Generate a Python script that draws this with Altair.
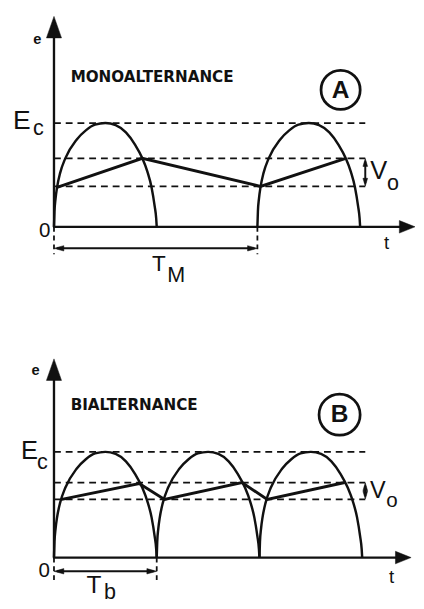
import altair as alt
import pandas as pd

# ---------------- data ----------------
# one hand-drawn arch (phase within the half-wave, level relative to Ec)
ARCH_PHASE = [0.0, 0.005, 0.015, 0.03, 0.06, 0.11, 0.22, 0.31, 0.40, 0.50, 0.60, 0.70, 0.79, 0.86, 0.91, 0.95, 0.98, 0.995, 1.0]
ARCH_LEVEL = [0.0, 0.15, 0.27, 0.38, 0.52, 0.66, 0.84, 0.93, 0.985, 1.0, 0.98, 0.91, 0.79, 0.66, 0.53, 0.38, 0.2, 0.08, 0.0]

A_ARCH_START = [0.0, 1.98]
B_ARCH_START = [0.0, 1.0, 2.0]
A_RIPPLE_T = [0.03, 0.86, 2.01, 2.84]
A_RIPPLE_E = [0.38, 0.66, 0.39, 0.66]
B_RIPPLE_T = [0.076, 0.83, 1.076, 1.83, 2.076, 2.83]
B_RIPPLE_E = [0.55, 0.70, 0.55, 0.71, 0.55, 0.71]
A_LEVELS = [1.0, 0.66, 0.39]
B_LEVELS = [1.0, 0.71, 0.55]
A_PERIOD = 1.98
B_PERIOD = 1.0
TITLES = ["MONOALTERNANCE", "BIALTERNANCE"]
BADGES = ["A", "B"]
PERIOD_SUB = ["M", "b"]

INK = "#111111"
FONT = "Liberation Sans"
W = 414
T0 = -47 / 105.0
T1 = T0 + W / 105.0

# arrowhead outlines (unit square, scaled by the mark size)
HEAD_UP = "M0,-1L0.7,1L-0.7,1Z"
HEAD_RIGHT = "M1,0L-1,0.8L-1,-0.8Z"
SMALL_LEFT = "M-1,0L1,-0.55L1,0.55Z"
SMALL_RIGHT = "M1,0L-1,-0.55L-1,0.55Z"
SMALL_UP = "M0,-1L0.6,1L-0.6,1Z"
SMALL_DOWN = "M0,1L0.6,-1L-0.6,-1Z"

PANELS = [
    dict(h=283, edom=[-0.6226, 2.047], starts=A_ARCH_START, rt=A_RIPPLE_T, re=A_RIPPLE_E,
         levels=A_LEVELS, period=A_PERIOD, title=TITLES[0], badge=BADGES[0], sub=PERIOD_SUB[0],
         yhead=1.925, xhead=3.438, lvl_end=3.03, per_e=-0.2075, per_tick=-0.264,
         e_lab=(-0.162, 1.811), title_pos=(0.162, 1.443), badge_pos=(2.79, 1.32), badge_size=1600,
         E_pos=(-0.314, 1.019), c_pos=(-0.152, 0.953), zero_pos=(-0.09, -0.042),
         t_pos=(3.238, -0.16), V_pos=(3.162, 0.538), o_pos=(3.30, 0.425),
         T_pos=(1.02, -0.358), S_pos=(1.19, -0.462), Esz=27, csz=22, Vsz=26, osz=22, Tsz=23, Ssz=22),
    dict(h=312, edom=[-0.370, 2.5185], starts=B_ARCH_START, rt=B_RIPPLE_T, re=B_RIPPLE_E,
         levels=B_LEVELS, period=B_PERIOD, title=TITLES[1], badge=BADGES[1], sub=PERIOD_SUB[1],
         yhead=1.778, xhead=3.40, lvl_end=3.03, per_e=-0.13, per_tick=-0.25,
         e_lab=(-0.18, 1.769), title_pos=(0.162, 1.444), badge_pos=(2.78, 1.352), badge_size=1764,
         E_pos=(-0.238, 1.009), c_pos=(-0.114, 0.898), zero_pos=(-0.095, -0.13),
         t_pos=(3.286, -0.185), V_pos=(3.152, 0.63), o_pos=(3.29, 0.537),
         T_pos=(0.39, -0.262), S_pos=(0.545, -0.325), Esz=26, csz=22, Vsz=24, osz=21, Tsz=25, Ssz=22),
]


def panel(p):
    xs = alt.Scale(domain=[T0, T1], nice=False, zero=False)
    ys = alt.Scale(domain=p["edom"], nice=False, zero=False)
    X = alt.X("t:Q", scale=xs, axis=None)
    Y = alt.Y("e:Q", scale=ys, axis=None)

    def text(label, pos, size, weight="normal", font=FONT, align="center"):
        df = pd.DataFrame({"t": [pos[0]], "e": [pos[1]], "label": [label]})
        return alt.Chart(df).mark_text(font=font, fontSize=size, fontWeight=weight, align=align,
                                       baseline="middle", color=INK).encode(x=X, y=Y, text="label:N")

    def head(shape, t, e, size):
        df = pd.DataFrame({"t": [t], "e": [e]})
        return alt.Chart(df).mark_point(shape=shape, size=size, fill=INK, stroke=INK,
                                        strokeWidth=0.5, opacity=1, fillOpacity=1).encode(x=X, y=Y)

    # dashed levels
    lv = pd.DataFrame({"t": [0.0] * len(p["levels"]), "t2": [p["lvl_end"]] * len(p["levels"]),
                       "e": p["levels"]})
    levels = alt.Chart(lv).mark_rule(color=INK, strokeWidth=1.8, strokeDash=[7, 5]).encode(
        x=X, x2=alt.X2("t2:Q"), y=Y)

    # axes
    xa = pd.DataFrame({"t": [-0.01], "t2": [p["xhead"]], "e": [0.0]})
    xaxis = alt.Chart(xa).mark_rule(color=INK, strokeWidth=2.4).encode(x=X, x2=alt.X2("t2:Q"), y=Y)
    ya = pd.DataFrame({"t": [0.0], "e": [0.0], "e2": [p["yhead"]]})
    yaxis = alt.Chart(ya).mark_rule(color=INK, strokeWidth=2.4).encode(x=X, y=Y, y2=alt.Y2("e2:Q"))

    # arches
    rows = []
    for k, s in enumerate(p["starts"]):
        for ph, lvl in zip(ARCH_PHASE, ARCH_LEVEL):
            rows.append({"t": s + ph, "e": lvl, "arch": k})
    arches = alt.Chart(pd.DataFrame(rows)).mark_line(color=INK, strokeWidth=2.5,
                                                     interpolate="monotone").encode(
        x=X, y=Y, detail="arch:N")

    ripple = alt.Chart(pd.DataFrame({"t": p["rt"], "e": p["re"]})).mark_line(
        color=INK, strokeWidth=3).encode(x=X, y=Y)

    # period arrow
    pa = pd.DataFrame({"t": [0.03], "t2": [p["period"] - 0.03], "e": [p["per_e"]]})
    parrow = alt.Chart(pa).mark_rule(color=INK, strokeWidth=2).encode(x=X, x2=alt.X2("t2:Q"), y=Y)
    pt = pd.DataFrame({"t": [0.0, p["period"]], "e": [0.0, 0.0], "e2": [p["per_tick"]] * 2})
    pticks = alt.Chart(pt).mark_rule(color=INK, strokeWidth=1.8, strokeDash=[5, 4]).encode(
        x=X, y=Y, y2=alt.Y2("e2:Q"))

    # ripple amplitude arrow
    lo, hi = min(p["levels"][1:]), max(p["levels"][1:])
    va = pd.DataFrame({"t": [p["lvl_end"]], "e": [lo + 0.03], "e2": [hi - 0.03]})
    varrow = alt.Chart(va).mark_rule(color=INK, strokeWidth=2).encode(x=X, y=Y, y2=alt.Y2("e2:Q"))

    badge = alt.Chart(pd.DataFrame({"t": [p["badge_pos"][0]], "e": [p["badge_pos"][1]]})).mark_point(
        shape="circle", filled=False, size=p["badge_size"], strokeWidth=2.8, color=INK, opacity=1
    ).encode(x=X, y=Y)

    layers = [
        levels, xaxis, yaxis, arches, ripple, parrow, pticks, varrow, badge,
        head(HEAD_UP, 0.0, p["yhead"], 484),
        head(HEAD_RIGHT, p["xhead"], 0.0, 256),
        head(SMALL_LEFT, 0.048, p["per_e"], 100),
        head(SMALL_RIGHT, p["period"] - 0.048, p["per_e"], 100),
        head(SMALL_UP, p["lvl_end"], hi - 0.04, 64),
        head(SMALL_DOWN, p["lvl_end"], lo + 0.04, 64),
        text("e", p["e_lab"], 15, "bold"),
        text(p["title"], p["title_pos"], 15.5, "bold", font="DejaVu Sans", align="left"),
        text(p["badge"], p["badge_pos"], 25, "bold"),
        text("E", p["E_pos"], p["Esz"]),
        text("c", p["c_pos"], p["csz"]),
        text("0", p["zero_pos"], 21),
        text("t", p["t_pos"], 19),
        text("V", p["V_pos"], p["Vsz"]),
        text("o", p["o_pos"], p["osz"]),
        text("T", p["T_pos"], p["Tsz"]),
        text(p["sub"], p["S_pos"], p["Ssz"]),
    ]
    return alt.layer(*layers).properties(width=W, height=p["h"])


chart = alt.vconcat(*[panel(p) for p in PANELS], spacing=0, bounds="flush").properties(
    padding=0, background="white"
).configure_view(stroke=None)

chart.save("out.html", embed_options={"renderer": "svg", "actions": False})
